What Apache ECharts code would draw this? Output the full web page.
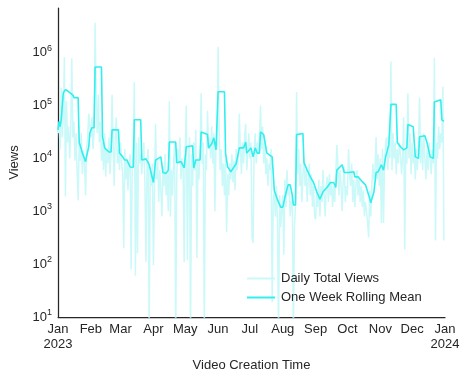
<!DOCTYPE html>
<html>
<head>
<meta charset="utf-8">
<script src="https://cdn.jsdelivr.net/npm/echarts@6/dist/echarts.min.js"></script>
<style>
  html, body { margin: 0; padding: 0; background: #fff; }
  #chart { width: 470px; height: 382px; }
</style>
</head>
<body>
<div id="chart"></div>
<script>
// x axis: day of year 2023 (0 = Jan 1), month starts used as ticks
const monthStarts = [0, 31, 59, 90, 120, 151, 181, 212, 243, 273, 304, 334, 365]
const monthLabels = ['Jan\n2023', 'Feb', 'Mar', 'Apr', 'May', 'Jun', 'Jul', 'Aug', 'Sep', 'Oct', 'Nov', 'Dec', 'Jan\n2024']
const yTicks = [10, 100, 1000, 10000, 100000, 1000000]

// daily total views, one value per day of 2023
const dailyViews = [
  30000, 45000, 15000, 220000, 25000, 60000, 830000, 1900, 120000, 20000,
  40000, 10000, 35000, 780000, 25000, 50000, 9000, 30000, 6000, 1600,
  22000, 9000, 30000, 5000, 14000, 8000, 2000, 15000, 25000, 70000,
  40000, 25000, 60000, 15000, 30000, 3700000, 150000, 30000, 160000, 20000,
  50000, 9000, 20000, 6000, 30000, 4500, 15000, 8000, 25000, 5000,
  12000, 160000, 20000, 3000, 25000, 60000, 8000, 15000, 6000, 20000,
  9000, 5000, 200, 15000, 4000, 10000, 2500, 8000, 12000, 80,
  6000, 15000, 280000, 60, 20000, 160, 25000, 8000, 12000, 5000,
  10000, 20000, 3000, 110, 9000, 15000, 4, 6000, 3000, 8000,
  95, 2500, 45000, 4000, 10000, 1500, 6000, 2500, 800, 7000,
  3000, 12000, 2000, 5000, 1000, 120000, 800, 6000, 2000, 8000,
  20000, 3, 5000, 15000, 8000, 25000, 4000, 10000, 6000, 110,
  15000, 100000, 120, 8000, 25000, 4, 12000, 3000, 20000, 6000,
  35000, 130, 10000, 4000, 15000, 170000, 8000, 20000, 4, 12000,
  6000, 80000, 15000, 25000, 10000, 40000, 8000, 30000, 1000, 20000,
  15000, 1300000, 25000, 6000, 15000, 3000, 8000, 2000, 10000, 400,
  5000, 2000, 8000, 4000, 12000, 3500, 9000, 2500, 15000, 6000,
  10000, 70000, 15000, 5000, 20000, 8000, 25000, 45000, 6000, 12000,
  30000, 10000, 20000, 320, 250, 15000, 30000, 8000, 20000, 12000,
  25000, 100000, 15000, 40000, 8000, 20000, 5000, 10000, 3000, 8000,
  6000, 15000, 19, 1500, 2500, 800, 3000, 600, 4, 2000,
  500, 1000, 2000, 150, 4000, 1200, 6000, 2000, 3000, 800,
  1500, 2000, 4, 500, 1200, 180000, 5000, 15000, 3000, 8000,
  1500, 5000, 10000, 3000, 6000, 1500, 4000, 8000, 2000, 5000,
  1200, 3000, 800, 700, 2500, 1200, 4000, 800, 3000, 1500,
  6000, 2000, 800, 3000, 4500, 1500, 5000, 2000, 3500, 1200,
  3000, 1500, 5000, 18000, 8000, 2000, 6000, 3000, 1000, 4000,
  7000, 1500, 3000, 2000, 15000, 5000, 3000, 8000, 1500, 4000,
  1200, 3000, 6000, 2000, 4000, 1500, 3000, 1200, 2500, 800,
  1500, 1000, 600, 320, 2500, 800, 3000, 8000, 4000, 6000,
  25000, 4000, 12000, 3000, 10000, 600, 15000, 600, 8000, 20000,
  25000, 6000, 15000, 10000, 680000, 6000, 30000, 10000, 20000, 5000,
  15000, 8000, 20000, 12000, 5000, 10000, 60000, 190, 15000, 8000,
  170000, 10000, 30000, 5000, 20000, 8000, 12000, 4000, 15000, 6000,
  20000, 140000, 8000, 25000, 6000, 30000, 10000, 4000, 15000, 6000,
  20000, 10000, 5000, 15000, 8000, 800000, 280, 20000, 10000, 40000,
  15000, 30000, 20000, 230000, 280
]

// one week rolling mean at its corners
const rollDays = [
  0, 1, 2, 3, 5, 7, 9, 14, 15, 19, 20, 22, 23, 26, 27, 29, 30, 32, 34, 35,
  41, 42, 44, 48, 50, 51, 57, 58, 61, 63, 65, 68, 71, 72, 78, 79, 83, 86, 90, 92,
  97, 99, 102, 104, 105, 111, 112, 116, 119, 121, 127, 128, 130, 134, 135, 141, 142, 145, 147, 149,
  150, 151, 157, 158, 160, 163, 166, 168, 171, 175, 177, 178, 182, 184, 186, 188, 190, 191, 194, 197,
  202, 204, 207, 210, 212, 215, 217, 219, 221, 222, 224, 225, 231, 232, 235, 238, 241, 244, 247, 250,
  254, 257, 260, 262, 263, 268, 270, 274, 279, 280, 283, 287, 290, 293, 295, 298, 300, 302, 305, 307,
  309, 312, 313, 314, 319, 320, 323, 326, 329, 330, 335, 337, 340, 341, 346, 348, 351, 354, 355, 361,
  362, 364
]
const rollViews = [
  34700, 50000, 40000, 53700, 174000, 200000, 190000, 158000, 141000, 141000, 20000, 15000, 12600, 8700, 11000, 16600, 30200, 38000, 38000, 537000,
  537000, 25700, 15800, 13200, 13200, 34700, 34700, 12600, 10700, 9300, 9300, 6900, 6800, 53700, 53700, 9300, 9800, 7600, 3500, 9300,
  10700, 5400, 5200, 6000, 20400, 20400, 8300, 8700, 6600, 16600, 17400, 6600, 9300, 9300, 31600, 28200, 15800, 19000, 24500, 14500,
  14500, 182000, 182000, 12600, 6900, 5600, 6900, 7900, 15800, 15800, 20400, 12600, 15800, 10700, 15800, 12600, 12600, 31600, 28200, 12600,
  10700, 2500, 1660, 1200, 1200, 2240, 3160, 3160, 2000, 1320, 1320, 28200, 29500, 8300, 6000, 4470, 3500, 2340, 1700, 2340,
  2880, 3500, 3500, 2820, 6000, 7600, 5400, 5400, 5600, 4470, 4470, 3630, 3160, 2040, 1450, 2340, 5400, 5600, 7600, 6000,
  10700, 18000, 18000, 105000, 105000, 20000, 16600, 14500, 15800, 43600, 39800, 10700, 10000, 25700, 26900, 20000, 10700, 10000, 117000, 129000,
  53700, 50000
]

const chart = echarts.init(document.getElementById('chart'), null, { renderer: 'canvas' })

const dailyData = dailyViews.map((v, i) => [i, v])
const rollData = rollDays.map((d, i) => [d, rollViews[i]])

const textColor = '#262626'
const fontFamily = 'Liberation Sans, Arial, sans-serif'
const dailyColor = '#cbf9f9'
const rollColor = '#33eeee'

chart.setOption({
  animation: false,
  textStyle: { fontFamily: fontFamily },
  grid: { left: 57, right: 25, top: 8, bottom: 65 },
  xAxis: {
    type: 'value',
    min: 0,
    max: 365,
    name: 'Video Creation Time',
    nameLocation: 'middle',
    nameGap: 42,
    nameTextStyle: { fontSize: 13, color: textColor },
    axisLine: { show: true, lineStyle: { color: textColor, width: 1.25 } },
    axisTick: { show: false },
    splitLine: { show: false },
    axisLabel: {
      customValues: monthStarts,
      fontSize: 13,
      color: textColor,
      margin: 5,
      lineHeight: 15,
      formatter: (v) => monthLabels[monthStarts.indexOf(v)]
    }
  },
  yAxis: {
    type: 'log',
    logBase: 10,
    min: 10,
    max: 7000000,
    name: 'Views',
    nameLocation: 'middle',
    nameGap: 37,
    nameTextStyle: { fontSize: 13, color: textColor },
    axisLine: { show: true, lineStyle: { color: textColor, width: 1.25 } },
    axisTick: { show: false },
    splitLine: { show: false },
    axisLabel: {
      customValues: yTicks,
      fontSize: 13,
      color: textColor,
      margin: 6,
      formatter: (v) => '10{s|' + Math.round(Math.log10(v)) + '}',
      rich: {
        s: { fontSize: 9, color: textColor, verticalAlign: 'bottom', padding: [0, 0, 9, 0] }
      }
    }
  },
  legend: {
    orient: 'vertical',
    left: 242,
    top: 267,
    itemWidth: 28,
    itemHeight: 2,
    itemGap: 6,
    textStyle: { fontSize: 13, color: textColor, padding: [0, 0, 0, 1] },
    data: [
      { name: 'Daily Total Views', icon: 'rect', itemStyle: { color: dailyColor } },
      { name: 'One Week Rolling Mean', icon: 'rect', itemStyle: { color: rollColor } }
    ]
  },
  series: [
    {
      name: 'Daily Total Views',
      type: 'line',
      data: dailyData,
      showSymbol: false,
      symbol: 'none',
      clip: true,
      lineStyle: { color: dailyColor, width: 1.5 },
      itemStyle: { color: dailyColor },
      z: 1
    },
    {
      name: 'One Week Rolling Mean',
      type: 'line',
      data: rollData,
      showSymbol: false,
      symbol: 'none',
      clip: true,
      lineStyle: { color: rollColor, width: 1.6 },
      itemStyle: { color: rollColor },
      z: 2
    }
  ]
})
</script>
</body>
</html>
